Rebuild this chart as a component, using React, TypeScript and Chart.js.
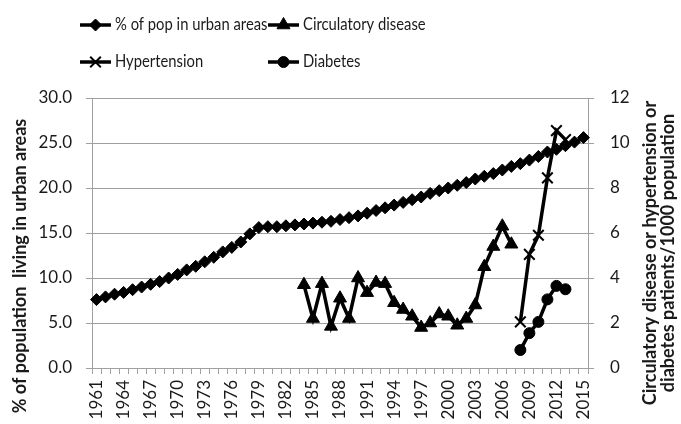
import React, { useEffect, useRef } from 'react';
import { Chart, registerables } from 'chart.js';
import { drawPoint } from 'chart.js/helpers';

Chart.register(...registerables);

const years = [
  '1961', '1962', '1963', '1964', '1965', '1966', '1967', '1968', '1969', '1970',
  '1971', '1972', '1973', '1974', '1975', '1976', '1977', '1978', '1979', '1980',
  '1981', '1982', '1983', '1984', '1985', '1986', '1987', '1988', '1989', '1990',
  '1991', '1992', '1993', '1994', '1995', '1996', '1997', '1998', '1999', '2000',
  '2001', '2002', '2003', '2004', '2005', '2006', '2007', '2008', '2009', '2010',
  '2011', '2012', '2013', '2014', '2015',
];

const tickYears = [
  '1961', '1964', '1967', '1970', '1973', '1976', '1979', '1982', '1985', '1988',
  '1991', '1994', '1997', '2000', '2003', '2006', '2009', '2012', '2015',
];

const urbanPct = [
  7.6, 7.9, 8.2, 8.4, 8.7, 9.0, 9.3, 9.6, 10.0, 10.4,
  10.9, 11.3, 11.8, 12.3, 12.9, 13.4, 14.0, 14.9, 15.6, 15.7,
  15.7, 15.8, 15.9, 16.0, 16.1, 16.2, 16.3, 16.5, 16.7, 16.9,
  17.2, 17.5, 17.8, 18.1, 18.4, 18.7, 19.0, 19.4, 19.7, 20.0,
  20.3, 20.6, 21.0, 21.3, 21.6, 22.0, 22.4, 22.7, 23.1, 23.5,
  24.0, 24.3, 24.7, 25.1, 25.6,
];

const circulatoryYears = [
  '1984', '1985', '1986', '1987', '1988', '1989', '1990', '1991', '1992', '1993',
  '1994', '1995', '1996', '1997', '1998', '1999', '2000', '2001', '2002', '2003',
  '2004', '2005', '2006', '2007',
];
const circulatoryValues = [
  3.7, 2.2, 3.75, 1.85, 3.1, 2.2, 4.0, 3.35, 3.8, 3.75,
  2.9, 2.6, 2.3, 1.8, 2.0, 2.4, 2.3, 1.9, 2.2, 2.8,
  4.5, 5.4, 6.3, 5.5,
];

const hypertensionYears = ['2008', '2009', '2010', '2011', '2012', '2013'];
const hypertensionValues = [2.05, 5.05, 5.9, 8.45, 10.55, 10.15];

const diabetesYears = ['2008', '2009', '2010', '2011', '2012', '2013'];
const diabetesValues = [0.8, 1.55, 2.05, 3.05, 3.65, 3.5];

const leftTitle = '% of population  living in urban areas';
const rightTitle = ['Circulatory disease or hypertension or', 'diabetes patients/1000 population'];

const FONT = 'Lato, "Open Sans", sans-serif';
const GRID = '#a0a0a0';
const TEXT = '#1a1a1a';

const pairs = (xs: string[], ys: number[]) => xs.map((x, i) => ({ x, y: ys[i] }));

const legendSlots = [
  { x: 80, y: 25 },
  { x: 268, y: 25 },
  { x: 80, y: 62 },
  { x: 268, y: 62 },
];

const overlayPlugin = {
  id: 'overlay',
  afterDraw(chart: any) {
    const ctx = chart.ctx as CanvasRenderingContext2D;
    ctx.save();
    // legend
    chart.data.datasets.forEach((ds: any, i: number) => {
      const s = legendSlots[i];
      ctx.strokeStyle = '#000';
      ctx.lineWidth = 3.5;
      ctx.beginPath();
      ctx.moveTo(s.x, s.y);
      ctx.lineTo(s.x + 31, s.y);
      ctx.stroke();
      ctx.fillStyle = '#000';
      ctx.strokeStyle = '#000';
      ctx.lineWidth = ds.pointBorderWidth || 1;
      drawPoint(ctx, { pointStyle: ds.pointStyle, radius: ds.pointRadius, rotation: 0, borderWidth: ds.pointBorderWidth || 1 } as any, s.x + 15.5, s.y);
      ctx.save();
      ctx.fillStyle = TEXT;
      ctx.font = `17px ${FONT}`;
      ctx.textAlign = 'left';
      ctx.textBaseline = 'middle';
      ctx.translate(s.x + 35, s.y);
      ctx.scale(0.87, 1);
      ctx.fillText(ds.label, 0, 0);
      ctx.restore();
    });
    // left axis title
    ctx.fillStyle = TEXT;
    ctx.font = `bold 18px ${FONT}`;
    ctx.textAlign = 'center';
    ctx.textBaseline = 'middle';
    ctx.save();
    ctx.translate(20, 266);
    ctx.rotate(-Math.PI / 2);
    ctx.fillText(leftTitle, 0, 0);
    ctx.restore();
    // right axis title
    ctx.save();
    ctx.translate(650, 253);
    ctx.rotate(-Math.PI / 2);
    ctx.fillText(rightTitle[0], 0, 0);
    ctx.fillText(rightTitle[1], 0, 18);
    ctx.restore();
    ctx.restore();
  },
};

export default function App() {
  const ref = useRef<HTMLCanvasElement | null>(null);
  useEffect(() => {
    document.body.style.margin = '0';
    const canvas = ref.current;
    if (!canvas) return;
    const common = {
      borderColor: '#000',
      backgroundColor: '#000',
      borderWidth: 3.5,
      pointBackgroundColor: '#000',
      pointBorderColor: '#000',
    };
    const chart = new Chart(canvas, {
      type: 'line',
      data: {
        labels: years,
        datasets: [
          {
            ...common,
            label: '% of pop in urban areas',
            data: urbanPct,
            yAxisID: 'y',
            pointStyle: 'rectRot',
            pointRadius: 6,
            pointBorderWidth: 1,
          },
          {
            ...common,
            label: 'Circulatory disease',
            data: pairs(circulatoryYears, circulatoryValues) as any,
            yAxisID: 'y1',
            pointStyle: 'triangle',
            pointRadius: 7.5,
            pointBorderWidth: 1,
          },
          {
            ...common,
            label: 'Hypertension',
            data: pairs(hypertensionYears, hypertensionValues) as any,
            yAxisID: 'y1',
            pointStyle: 'crossRot',
            pointRadius: 7.5,
            pointBorderWidth: 2,
          },
          {
            ...common,
            label: 'Diabetes',
            data: pairs(diabetesYears, diabetesValues) as any,
            yAxisID: 'y1',
            pointStyle: 'circle',
            pointRadius: 5.5,
            pointBorderWidth: 1,
          },
        ],
      },
      options: {
        responsive: false,
        animation: false,
        devicePixelRatio: 1,
        layout: { padding: { top: 98, left: 0, right: 0, bottom: 0 } },
        plugins: {
          legend: { display: false },
          tooltip: { enabled: false },
        },
        elements: { line: { tension: 0 } },
        scales: {
          x: {
            type: 'category',
            offset: true,
            grid: {
              offset: true,
              drawOnChartArea: false,
              drawTicks: true,
              tickLength: 6,
              color: GRID,
            },
            border: { display: true, color: GRID },
            ticks: {
              autoSkip: false,
              maxRotation: 90,
              minRotation: 90,
              padding: 6,
              color: TEXT,
              font: { family: FONT, size: 17 },
              callback: function (this: any, value: any) {
                const lab = this.getLabelForValue(value);
                return tickYears.includes(lab) ? lab : '';
              },
            },
            afterFit: (s: any) => { s.height = 56; },
          },
          y: {
            position: 'left',
            min: 0,
            max: 30,
            grid: { color: GRID, tickLength: 6, drawTicks: true },
            border: { display: true, color: GRID },
            ticks: {
              stepSize: 5,
              padding: 14,
              color: TEXT,
              font: { family: FONT, size: 17 },
              callback: (v: any) => Number(v).toFixed(1),
            },
            afterFit: (s: any) => { s.width = 92; },
          },
          y1: {
            position: 'right',
            min: 0,
            max: 12,
            grid: { drawOnChartArea: false, color: GRID, tickLength: 6, drawTicks: true },
            border: { display: true, color: GRID },
            ticks: {
              stepSize: 2,
              padding: 16,
              color: TEXT,
              font: { family: FONT, size: 17 },
            },
            afterFit: (s: any) => { s.width = 93; },
          },
        },
      },
      plugins: [overlayPlugin],
    });
    return () => chart.destroy();
  }, []);
  return (
    <div style={{ position: 'absolute', left: 0, top: 0, width: 681, height: 424 }}>
      <canvas ref={ref} width={681} height={424} style={{ width: 681, height: 424 }} />
    </div>
  );
}
